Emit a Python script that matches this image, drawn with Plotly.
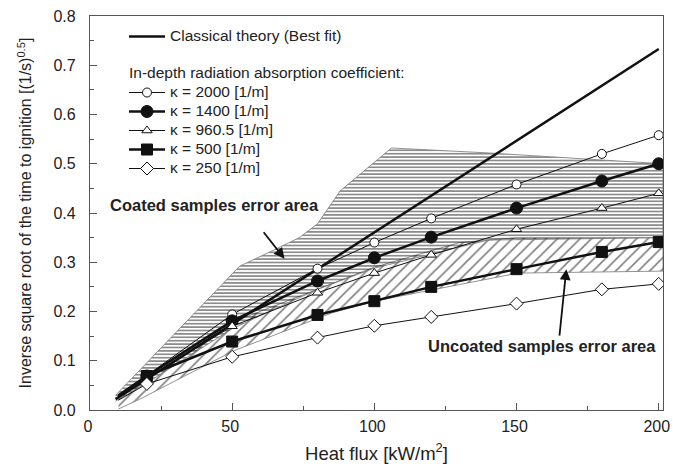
import plotly.graph_objects as go

# ---- data ----
heat_flux = [20, 50, 80, 100, 120, 150, 180, 200]
k2000 = [0.070, 0.194, 0.287, 0.340, 0.389, 0.458, 0.520, 0.558]
k1400 = [0.069, 0.181, 0.262, 0.309, 0.351, 0.410, 0.465, 0.500]
k960 = [0.065, 0.170, 0.238, 0.278, 0.315, 0.367, 0.410, 0.440]
k500 = [0.069, 0.139, 0.193, 0.221, 0.250, 0.286, 0.321, 0.341]
k250 = [0.053, 0.108, 0.147, 0.171, 0.189, 0.216, 0.245, 0.256]
start_x = [10, 20]
start_2000 = [0.030, 0.070]
start_1400 = [0.028, 0.069]
start_960 = [0.025, 0.065]
start_500 = [0.030, 0.069]
start_250 = [0.020, 0.053]

classical_x = [9, 200]
classical_y = [0.022, 0.733]

coated_x = [9, 52.6, 64, 73.6, 80, 88, 106, 140, 201.5, 201.5, 140, 100, 80, 50, 20, 9]
coated_y = [0.030, 0.292, 0.323, 0.350, 0.378, 0.445, 0.532, 0.522, 0.500, 0.350, 0.345, 0.288, 0.245, 0.165, 0.055, 0.018]

uncoated_x = [10, 20, 50, 80, 100, 130, 150, 201.5, 201.5, 150.6, 100, 85, 50.4, 17.5, 10]
uncoated_y = [0.020, 0.070, 0.178, 0.245, 0.290, 0.340, 0.350, 0.350, 0.282, 0.278, 0.221, 0.197, 0.120, 0.022, 0.002]

FONT = "Liberation Sans, Arial, sans-serif"
LEG_SPAN = '<span style="font-size:15.5px">{}</span>'
fig = go.Figure()

# error areas
fig.add_trace(go.Scatter(
    x=uncoated_x, y=uncoated_y, mode="lines", fill="toself",
    fillcolor="rgba(0,0,0,0)",
    fillpattern=dict(shape="/", fgcolor="#000", bgcolor="rgba(0,0,0,0)", size=8, solidity=0.2),
    line=dict(color="#777", width=0.8), showlegend=False, hoverinfo="skip"))
fig.add_trace(go.Scatter(
    x=coated_x, y=coated_y, mode="lines", fill="toself",
    fillcolor="rgba(0,0,0,0)",
    fillpattern=dict(shape="-", fgcolor="#000", bgcolor="rgba(0,0,0,0)", size=3.4, solidity=0.45),
    line=dict(color="#777", width=0.8), showlegend=False, hoverinfo="skip"))

# classical theory
fig.add_trace(go.Scatter(
    x=classical_x, y=classical_y, mode="lines", name=LEG_SPAN.format("Classical theory (Best fit)"),
    line=dict(color="#111", width=2.5), legendgroup="a"))

series = [
    ("κ = 2000 [1/m]", k2000, start_2000, "circle", "white", 9, 1),
    ("κ = 1400 [1/m]", k1400, start_1400, "circle", "#111", 12, 2.5),
    ("κ = 960.5 [1/m]", k960, start_960, "triangle-up", "white", 9, 1),
    ("κ = 500 [1/m]", k500, start_500, "square", "#111", 11, 2.5),
    ("κ = 250 [1/m]", k250, start_250, "diamond", "white", 10, 1),
]
for i, (name, ys, st, sym, col, sz, lw) in enumerate(series):
    fig.add_trace(go.Scatter(
        x=start_x, y=st, mode="lines", line=dict(color="#111", width=lw),
        showlegend=False, hoverinfo="skip"))
    kw = {}
    if i == 0:
        kw["legendgrouptitle"] = dict(text=LEG_SPAN.format("In-depth radiation absorption coefficient:"),
                                      font=dict(size=12, color="#222", family=FONT))
    fig.add_trace(go.Scatter(
        x=heat_flux, y=ys, mode="lines+markers", name=LEG_SPAN.format(name),
        line=dict(color="#111", width=lw),
        marker=dict(symbol=sym, size=sz, color=col, line=dict(color="#111", width=1)),
        legendgroup="b", **kw))

fig.add_annotation(x=68.4, y=0.307, ax=-22, ay=-28, axref="pixel", ayref="pixel",
                   text="", showarrow=True, arrowhead=2, arrowsize=1.2, arrowwidth=1.8, arrowcolor="#111")
fig.add_annotation(xref="paper", yref="paper", x=(214 - 90) / 573, y=(410 - 205) / 394,
                   xanchor="center", yanchor="middle",
                   text="<b>Coated samples error area</b>", showarrow=False,
                   font=dict(size=16.5, color="#222", family=FONT))
fig.add_annotation(x=167.5, y=0.286, ax=-7, ay=68, axref="pixel", ayref="pixel",
                   text="", showarrow=True, arrowhead=2, arrowsize=1.2, arrowwidth=1.8, arrowcolor="#111")
fig.add_annotation(xref="paper", yref="paper", x=(542 - 90) / 573, y=(410 - 346) / 394,
                   xanchor="center", yanchor="middle",
                   text="<b>Uncoated samples error area</b>", showarrow=False,
                   font=dict(size=16.5, color="#222", family=FONT))

axis_common = dict(showgrid=False, zeroline=False, showline=True, linecolor="#555", linewidth=1.3,
                   mirror=True, ticks="inside", tickcolor="#555", ticklen=7, tickwidth=1.2,
                   ticklabeloverflow="allow", automargin=False,
                   tickfont=dict(size=16, color="#222", family=FONT))
fig.update_xaxes(range=[0, 201.5], tickvals=[0, 50, 100, 150, 200],
                 minor=dict(tickvals=[25, 75, 125, 175], ticks="inside", ticklen=4, tickcolor="#555"),
                 ticklabelshift=-2, ticklabelstandoff=2,
                 title=dict(text="Heat flux [kW/m<sup>2</sup>]", font=dict(size=18.5, color="#222", family=FONT), standoff=13),
                 **axis_common)
fig.update_yaxes(range=[0, 0.8], tickvals=[0, 0.1, 0.2, 0.3, 0.4, 0.5, 0.6, 0.7, 0.8], tickformat=".1f",
                 minor=dict(tickvals=[0.05, 0.15, 0.25, 0.35, 0.45, 0.55, 0.65, 0.75], ticks="inside", ticklen=4, tickcolor="#555"),
                 ticklabelstandoff=10,
                 title=dict(text="Inverse square root of the time to ignition [(1/s)<sup>0.5</sup>]",
                            font=dict(size=16, color="#222", family=FONT), standoff=17),
                 **axis_common)

fig.update_layout(
    width=673, height=464, margin=dict(l=90, r=10, t=16, b=54, autoexpand=False),
    paper_bgcolor="white", plot_bgcolor="white",
    font=dict(family=FONT, color="#222"),
    legend=dict(x=34 / 573, y=388 / 394, xanchor="left", yanchor="top",
                bgcolor="rgba(0,0,0,0)", font=dict(size=12, color="#222", family=FONT),
                tracegroupgap=18, itemwidth=36, traceorder="grouped"),
)
fig.write_html("out.html", config={"displayModeBar": False},
               post_script="document.body.style.margin='0';document.body.style.overflow='hidden';")
